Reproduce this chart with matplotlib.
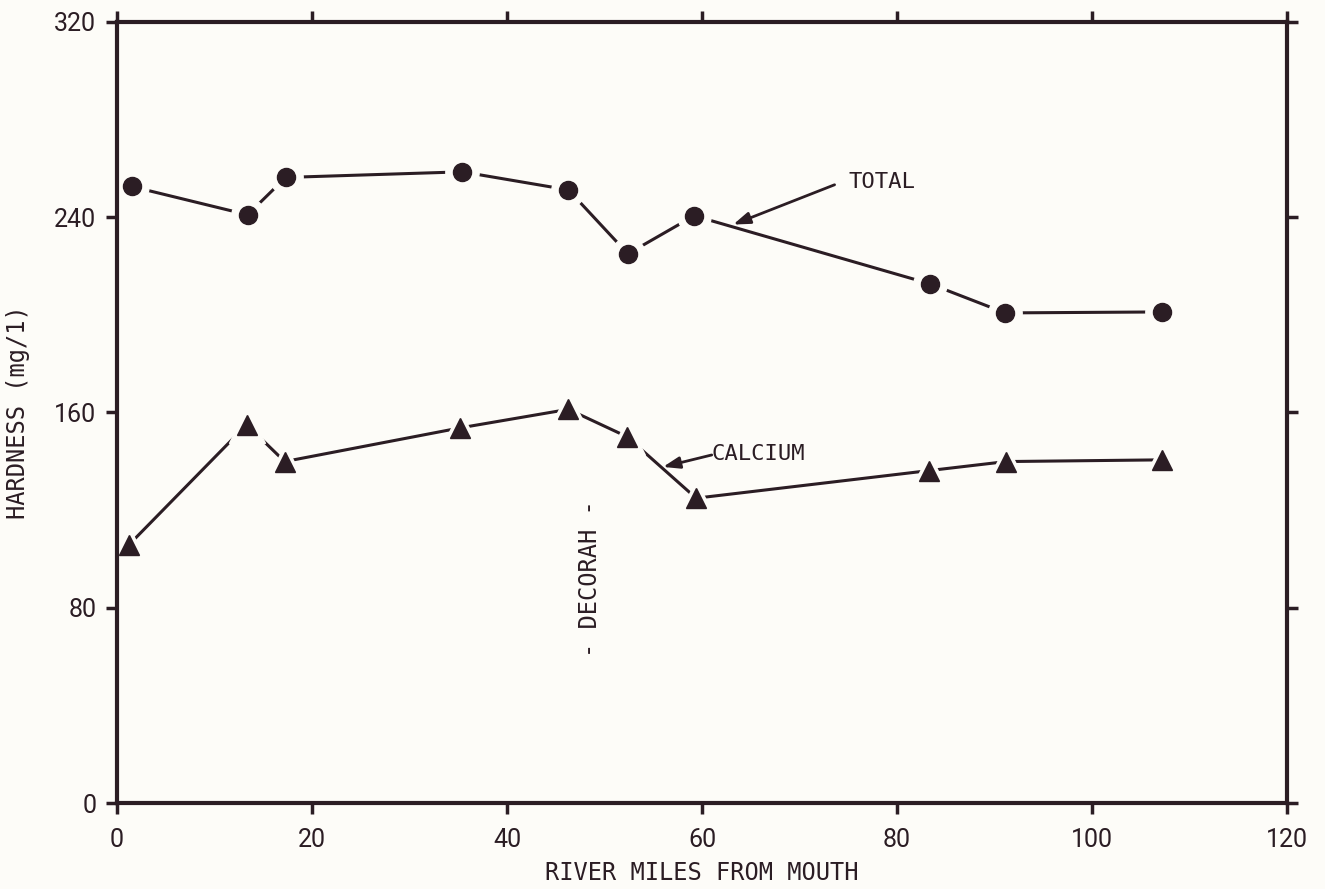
import matplotlib.pyplot as plt

# river miles and hardness (mg/1)
miles_total = [1.5, 13.4, 17.3, 35.4, 46.3, 52.4, 59.2, 83.4, 91.1, 107.2]
total = [252.6, 241.0, 256.3, 258.6, 251.2, 225.0, 240.6, 212.7, 200.8, 201.2]

miles_calcium = [1.2, 13.3, 17.2, 35.2, 46.3, 52.3, 59.4, 83.3, 91.2, 107.2]
calcium = [105.7, 155.0, 139.9, 153.7, 161.3, 150.1, 124.9, 136.2, 139.9, 140.6]

x_ticks = [0, 20, 40, 60, 80, 100, 120]
y_ticks = [0, 80, 160, 240, 320]

ink = '#2b1d24'
paper = '#fdfcf8'
lettering = 'DejaVu Sans Mono'

plt.rcParams['font.family'] = ['Roboto', 'DejaVu Sans']

fig = plt.figure(figsize=(13.25, 8.89), dpi=100, facecolor=paper)
ax = fig.add_axes([0.0883, 0.0967, 0.883, 0.8786])
ax.set_facecolor(paper)

# lines stop short of the markers: paper-coloured halo under each marker
ax.plot(miles_total, total, '-', color=ink, linewidth=2.2, zorder=2)
ax.plot(miles_total, total, 'o', color=paper, markersize=24, linestyle='none', zorder=3)
ax.plot(miles_total, total, 'o', color=ink, markersize=13, linestyle='none', zorder=4)

ax.plot(miles_calcium, calcium, '-', color=ink, linewidth=2.2, zorder=2)
ax.plot(miles_calcium, calcium, '^', color=paper, markersize=26, linestyle='none', zorder=3)
ax.plot(miles_calcium, calcium, '^', color=ink, markersize=15, linestyle='none', zorder=4)

arrow = dict(arrowstyle='-|>,head_length=1.0,head_width=0.35', color=ink, lw=2, shrinkA=0, shrinkB=0)
ax.annotate('', xy=(63.2, 237.0), xytext=(73.6, 253.3), arrowprops=arrow, zorder=5)
ax.text(75.0, 254.5, 'TOTAL', fontsize=16, color=ink, ha='left', va='center', family=lettering)
ax.annotate('', xy=(56.0, 137.7), xytext=(61.0, 142.6), arrowprops=arrow, zorder=5)
ax.text(61.0, 143.2, 'CALCIUM', fontsize=16, color=ink, ha='left', va='center', family=lettering)

ax.text(48.5, 92, '- DECORAH -', fontsize=17, color=ink, rotation=90, ha='center', va='center',
        family=lettering)

ax.set_xlim(0, 120)
ax.set_ylim(0, 320)
ax.set_xticks(x_ticks)
ax.set_yticks(y_ticks)
ax.tick_params(axis='both', direction='out', length=8, width=2.5, color=ink,
               labelsize=18, labelcolor=ink, pad=7)
ax.tick_params(top=True, right=True)
ax.tick_params(axis='x', pad=10)
for side in ['left', 'right', 'top', 'bottom']:
    ax.spines[side].set_linewidth(3)
    ax.spines[side].set_color(ink)
    ax.spines[side].set_zorder(6)

ax.set_xlabel('RIVER MILES FROM MOUTH', fontsize=17, color=ink, family=lettering)
ax.xaxis.set_label_coords(0.5, -0.074)
ax.set_ylabel('HARDNESS (mg/1)', fontsize=17, color=ink, family=lettering)
ax.yaxis.set_label_coords(-0.074, 0.5)

plt.savefig('out.png', dpi=100, facecolor=paper)
